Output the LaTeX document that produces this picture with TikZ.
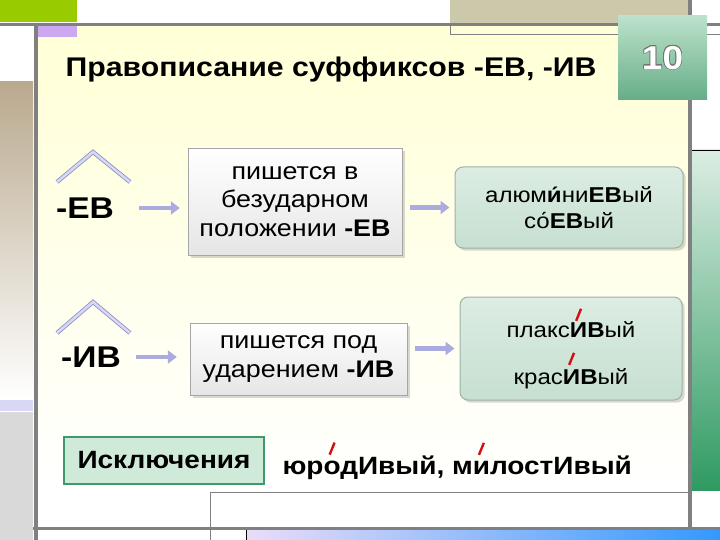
\documentclass[tikz,border=0pt]{standalone}
\usepackage{fontspec}
\setmainfont{Liberation Sans}[FakeStretch=1.12]
\usepackage[copies]{contour}
\usetikzlibrary{arrows.meta,positioning,shadows,calc}
\definecolor{LeafGreen}{HTML}{99CC00}
\definecolor{FrameGrey}{HTML}{808080}
\definecolor{Lilac}{HTML}{CCA8F0}
\definecolor{Khaki}{HTML}{CCC8AA}
\definecolor{Sand}{HTML}{B9A98E}
\definecolor{PaleYellow}{HTML}{FFFFD6}
\definecolor{Mint}{HTML}{DCEDE3}
\definecolor{MintDark}{HTML}{C6DFD0}
\definecolor{Sea}{HTML}{2F9A62}
\definecolor{BadgeTop}{HTML}{BCE2CB}
\definecolor{BadgeLow}{HTML}{67AD88}
\definecolor{RoofEdge}{HTML}{8C8CC0}
\definecolor{RoofFill}{HTML}{D8D8F6}
\definecolor{ArrowLav}{HTML}{ABABDF}
\definecolor{SkyBlue}{HTML}{3399FF}
\definecolor{Stress}{HTML}{D40F0F}
\definecolor{ExcGreen}{HTML}{3E9A6B}
\definecolor{ExcFill}{HTML}{CFEAD8}
\newcommand{\sz}[1]{\fontsize{#1}{1.2\dimexpr#1pt\relax}\selectfont}
% red stress mark over a letter
\newcommand{\stressed}[2][3pt]{\setbox0\hbox{#2}\rlap{\hbox to \wd0{\hss
  \raisebox{\dimexpr\ht0+#1\relax}{\textcolor{Stress}{\rotatebox{-22}{\rule{2.4pt}{13pt}}}}\hss}}#2}
\contourlength{0.7pt}

\begin{document}
\begin{tikzpicture}[x=1pt,y=-1pt,
  suffix/.style={font=\sz{30}\bfseries,inner sep=0pt},
  rulebox/.style={draw=black!35,top color=white,bottom color=black!10,
    drop shadow={opacity=.3},align=center,font=\sz{24}},
  examplebox/.style={draw=MintDark!80!black,line width=1pt,rounded corners=8pt,
    top color=Mint,bottom color=MintDark,drop shadow={opacity=.3},align=center,font=\sz{21.5}},
  roofline/.style={draw=RoofEdge,double=RoofFill,line width=.8pt,double distance=2.6pt},
  pointer/.style={ArrowLav,line width=4.5pt,-{Triangle[length=9pt,width=13pt]}}]
  \useasboundingbox (0,0) rectangle (720,540);
  % slide frame
  \fill[white] (0,0) rectangle (720,540);
  \shade[top color=PaleYellow,bottom color=white] (38,26) rectangle (688,492);
  \shade[top color=Sand,bottom color=white] (0,82) rectangle (33,400);
  \fill[RoofFill] (0,400) rectangle (33,411);
  \fill[black!15] (0,412) rectangle (33,540);
  \fill[LeafGreen] (0,0) rectangle (77,22);
  \fill[Lilac] (38,26) rectangle (77,37);
  \fill[Khaki] (450,0) rectangle (688,23);
  \draw[FrameGrey] (450,23) -- (450,34) -- (720,34);
  \shade[top color=Mint,bottom color=Sea] (692,150) rectangle (720,490);
  \draw (692,150) -- (720,150);
  \draw[FrameGrey] (210,540) -- (210,492) -- (688,492);
  \shade[left color=Lilac!40,right color=SkyBlue] (246,530) rectangle (720,540);
  \draw (246,530) -- (246,540);
  \draw[FrameGrey,line width=3pt] (0,24.5) -- (720,24.5);
  \draw[FrameGrey,line width=4pt] (35.5,24) -- (35.5,540);
  \draw[FrameGrey,line width=4pt] (690,0) -- (690,528);
  \draw[FrameGrey,line width=3pt] (33,528.5) -- (720,528.5);
  % title and number
  \node[font=\sz{27}\bfseries] (title) at (331,70) {Правописание суффиксов -ЕВ, -ИВ};
  \node[top color=BadgeTop,bottom color=BadgeLow,minimum width=89pt,minimum height=84pt,
    font=\sz{33}\bfseries,text=white] (num) at (662.5,58) {\contour{black!55}{10}};
  % rows
  \node[suffix] (sufEB) at (85,208) {-ЕВ};
  \node[suffix] (sufIV) at (91,357) {-ИВ};
  \draw[roofline] (57,182) -- (93,152) -- (130,182);
  \draw[roofline] (57,333) -- (93,302) -- (130,333);
  \node[rulebox,minimum width=214pt,minimum height=107pt] (ruleEB) at (295,201.5)
    {пишется в\\безударном\\положении \textbf{-ЕВ}};
  \node[rulebox,minimum width=217pt,minimum height=72pt] (ruleIV) at (298.5,359)
    {пишется под\\ударением \textbf{-ИВ}};
  \node[examplebox,minimum width=228pt,minimum height=81pt] (exEB) at (569,207.5)
    {алюм\textbf{и́}ни\textbf{ЕВ}ый\\со́\textbf{ЕВ}ый};
  \node[examplebox,minimum width=222pt,minimum height=103pt] (exIV) at (571,348.5)
    {плакс\stressed[2pt]{\textbf{И}}\textbf{В}ый\\[14pt]крас\stressed[5pt]{\textbf{И}}\textbf{В}ый};
  \draw[pointer,shorten <=25pt,shorten >=8pt] (sufEB.east) -- (sufEB.east -| ruleEB.west);
  \draw[pointer,shorten <=15pt,shorten >=13pt] (sufIV.east) -- (sufIV.east -| ruleIV.west);
  \draw[pointer,shorten <=8pt,shorten >=5pt] (ruleEB.east |- exEB.west) -- (exEB.west);
  \draw[pointer,shorten <=8pt,shorten >=5pt] (ruleIV.east |- exIV.west) -- (exIV.west);
  % exceptions
  \node[draw=ExcGreen,line width=2.5pt,fill=ExcFill,minimum width=200pt,minimum height=47pt,
    font=\sz{25}\bfseries] (exc) at (164,460.5) {Исключения};
  \node[font=\sz{25}\bfseries,anchor=west] (words) at (279,461)
    {юр\stressed[7pt]{о}дИвый, м\stressed[7pt]{и}лостИвый};
\end{tikzpicture}
\end{document}
